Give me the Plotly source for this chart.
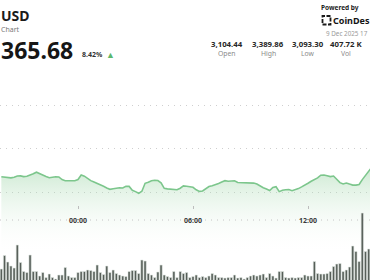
import pandas as pd
import plotly.graph_objects as go

W, H = 370, 280

# ---- data (10-minute bars, ETH/USD) ----
start_time = "2025-12-08 20:00"
price = [3134.9, 3134.5, 3133.3, 3132.6, 3134.0, 3136.8, 3137.0, 3135.4, 3136.3, 3138.6,
         3141.8, 3145.5, 3141.8, 3138.6, 3135.9, 3132.9, 3134.5, 3135.2, 3134.5, 3128.5,
         3126.0, 3126.0, 3126.0, 3126.0, 3128.7, 3139.1, 3136.3, 3130.3, 3126.2, 3122.8,
         3120.0, 3117.7, 3113.1, 3109.4, 3106.2, 3107.6, 3109.0, 3109.7, 3109.2, 3113.3,
         3112.9, 3104.1, 3100.9, 3097.0, 3101.8, 3120.0, 3122.5, 3125.7, 3126.9, 3126.4,
         3121.1, 3108.3, 3107.1, 3106.7, 3106.4, 3105.3, 3108.7, 3114.0, 3113.3, 3112.2,
         3110.8, 3105.1, 3101.4, 3102.5, 3108.0, 3112.6, 3114.5, 3116.3, 3119.8, 3123.0,
         3126.0, 3124.6, 3125.5, 3125.7, 3121.8, 3121.8, 3122.1, 3121.8, 3121.4, 3120.5,
         3118.4, 3113.8, 3109.7, 3106.7, 3103.4, 3110.3, 3112.2, 3100.9, 3104.1, 3105.3,
         3105.7, 3103.0, 3105.1, 3107.8, 3111.7, 3115.2, 3120.0, 3124.6, 3128.7, 3132.4,
         3138.6, 3139.1, 3137.5, 3135.4, 3136.8, 3128.0, 3121.6, 3118.4, 3120.7, 3118.2,
         3115.9, 3115.9, 3117.2, 3128.5, 3138.6, 3148.5, 3157.5]
volume_k = [3.8, 6.5, 5.2, 4.4, 4.0, 8.6, 5.1, 3.3, 3.1, 6.6,
            3.3, 3.3, 2.4, 3.1, 2.1, 2.8, 2.1, 1.8, 2.6, 2.6,
            4.1, 2.4, 2.1, 2.1, 3.1, 3.3, 3.3, 3.6, 3.5, 3.3,
            4.6, 3.1, 2.7, 4.4, 3.1, 3.6, 2.9, 2.6, 2.4, 2.3,
            3.3, 3.5, 3.5, 2.9, 5.6, 5.4, 2.9, 2.6, 2.1, 3.2,
            4.6, 2.6, 2.3, 2.1, 3.3, 2.1, 3.3, 2.9, 3.1, 2.1,
            2.3, 2.6, 2.1, 2.3, 2.1, 2.4, 2.9, 2.6, 2.1, 2.1,
            2.0, 2.1, 2.1, 2.6, 2.0, 2.1, 1.8, 2.1, 2.4, 2.6,
            2.4, 2.6, 2.8, 2.1, 2.9, 2.4, 2.0, 3.3, 3.3, 2.1,
            2.0, 2.1, 2.0, 2.1, 2.1, 2.6, 2.4, 2.4, 5.3, 2.9,
            2.8, 2.8, 2.9, 3.3, 4.3, 4.8, 4.9, 3.3, 3.6, 4.2,
            8.4, 7.3, 5.3, 15.0, 7.3, 7.8, 7.6]
times = pd.date_range(start_time, periods=len(price), freq="10min")

tick_vals = ["2025-12-09 00:00", "2025-12-09 06:00", "2025-12-09 12:00"]
tick_text = ["00:00", "06:00", "12:00"]
price_grid = [3100, 3200, 3300]

stat_values = ["3,104.44", "3,389.86", "3,093.30", "407.72 K"]
stat_labels = ["Open", "High", "Low", "Vol"]

FONT = "Noto Sans"

fig = go.Figure()

fig.add_trace(go.Bar(
    x=times, y=volume_k, yaxis="y2",
    marker=dict(color="#565e58", line=dict(color="#e3e9e4", width=0.6)),
    hoverinfo="skip",
))

fig.add_trace(go.Scatter(
    x=times, y=price, mode="lines",
    line=dict(color="#7cc68c", width=1.6, shape="linear"),
    fill="tozeroy",
    fillgradient=dict(type="vertical",
                      colorscale=[[0, "rgba(255,255,255,0)"], [1, "rgba(140,205,152,0.45)"]],
                      start=2955, stop=3160),
    hoverinfo="skip",
))


def px_x(p):
    return p / W


def px_y(p):
    return 1 - p / H


anns = []


def ann(text, x, y, size, color, xanchor="left", bold=False):
    anns.append(dict(text=f"<b>{text}</b>" if bold else text, x=px_x(x), y=px_y(y),
                     xref="paper", yref="paper", xanchor=xanchor, yanchor="middle",
                     showarrow=False, borderpad=0,
                     font=dict(family=FONT, size=size, color=color)))


ann("USD", 0, 15.5, 14, "#1b1b1b", bold=True)
ann("Chart", 0, 29.5, 7, "#777777")
ann("365.68", 0, 49.5, 23, "#161616", bold=True)
ann("8.42%", 81, 55, 7, "#333333", bold=True)
ann("▲", 104.5, 54.5, 9, "#5cb86c")
ann("Powered by", 320, 7, 6.5, "#222222", bold=True)
ann("CoinDes", 332, 20.5, 9, "#151515", bold=True)
ann("9 Dec 2025 17", 325, 33, 6.3, "#9a9a9a")

stat_x = [227, 268, 308, 346]
for sx, v, lab in zip(stat_x, stat_values, stat_labels):
    ann(v, sx, 44, 7.8, "#262626", xanchor="center", bold=True)
    ann(lab, sx, 53.5, 6.8, "#8a8a8a", xanchor="center")

shapes = []
# dotted baseline through the time labels, interrupted at labels
for a, b in [(0, 67), (90, 182), (205, 297), (321, 370)]:
    shapes.append(dict(type="line", xref="paper", yref="paper",
                       x0=px_x(a), x1=px_x(b), y0=px_y(220), y1=px_y(220),
                       line=dict(color="#c4c4c4", width=1, dash="1px,5px")))
# CoinDesk logo mark
shapes.append(dict(type="rect", xref="paper", yref="paper",
                   x0=px_x(322.5), x1=px_x(330.5), y0=px_y(24.5), y1=px_y(16),
                   line=dict(color="#1a1a1a", width=1.8, dash="4px,1.5px")))

fig.update_layout(
    width=W, height=H,
    margin=dict(l=0, r=0, t=0, b=0),
    paper_bgcolor="white", plot_bgcolor="white",
    showlegend=False, bargap=0.28,
    annotations=anns, shapes=shapes,
    xaxis=dict(
        range=["2025-12-08 19:55:48", "2025-12-09 15:14:06"],
        tickvals=tick_vals, ticktext=[f"<b>{t}</b>" for t in tick_text],
        anchor="free", position=1 - 205 / H,
        ticks="outside", ticklen=3, tickcolor="#bdbdbd", tickwidth=1,
        ticklabelstandoff=6,
        tickfont=dict(family=FONT, size=7, color="#3a3a3a"),
        showgrid=False, showline=False, zeroline=False,
    ),
    yaxis=dict(
        range=[2897.7, 3541.4],
        tickvals=price_grid, showticklabels=False,
        showgrid=True, gridcolor="#cfcfcf", gridwidth=1, griddash="1px,5px",
        zeroline=False, showline=False,
    ),
    yaxis2=dict(
        range=[1.6, 57.6], overlaying="y", side="right",
        showgrid=False, showticklabels=False, zeroline=False, showline=False,
    ),
)

fig.write_html("out.html")
